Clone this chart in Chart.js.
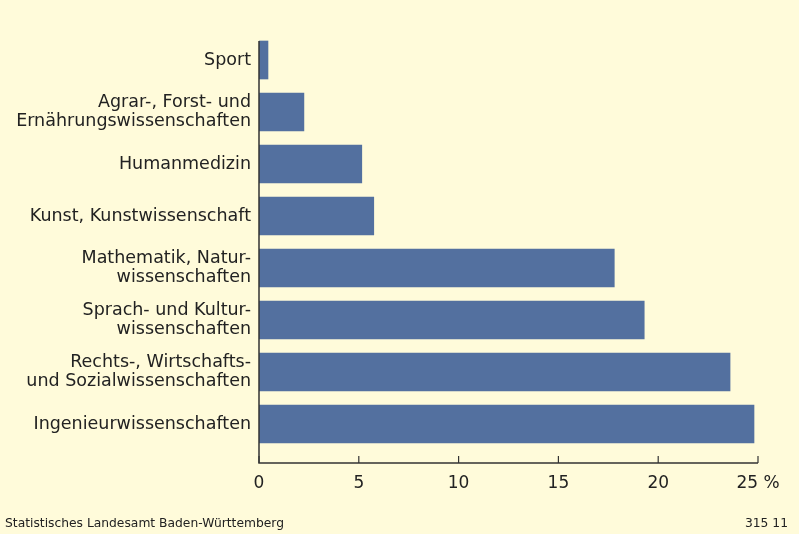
<!DOCTYPE html>
<html>
<head>
<meta charset="utf-8">
<script src="https://cdn.jsdelivr.net/npm/chart.js@4"></script>
<style>
  html, body { margin: 0; padding: 0; background: #FFFBDA; }
  #wrap { position: relative; width: 799px; height: 534px; overflow: hidden; }
  canvas { position: absolute; left: 0; top: 0; }
  .foot { position: absolute; top: 516px; font-family: "DejaVu Sans", sans-serif; font-size: 12.3px; color: #222; white-space: nowrap; }
</style>
</head>
<body>
<div id="wrap">
  <canvas id="c" width="799" height="534"></canvas>
  <div class="foot" style="left:5px;">Statistisches Landesamt Baden-Württemberg</div>
  <div class="foot" style="right:11px;">315 11</div>
</div>
<script>
const categories = [
  ["Sport"],
  ["Agrar-, Forst- und", "Ernährungswissenschaften"],
  ["Humanmedizin"],
  ["Kunst, Kunstwissenschaft"],
  ["Mathematik, Natur-", "wissenschaften"],
  ["Sprach- und Kultur-", "wissenschaften"],
  ["Rechts-, Wirtschafts-", "und Sozialwissenschaften"],
  ["Ingenieurwissenschaften"]
];
const shares = [0.45, 2.25, 5.15, 5.75, 17.8, 19.3, 23.6, 24.8];
const xTicks = [0, 5, 10, 15, 20, 25];
const unitLabel = "%";

const FONT = "DejaVu Sans";
const TEXT = "#222222";
const AXIS = "#333333";

const axesPlugin = {
  id: "axesPlugin",
  afterDraw(chart) {
    const ctx = chart.ctx;
    const xs = chart.scales.x;
    const x0 = xs.getPixelForValue(0);
    const axisY = 463;
    const topY = 41;
    ctx.save();
    ctx.strokeStyle = AXIS;
    ctx.lineWidth = 1.5;
    ctx.beginPath();
    ctx.moveTo(x0, topY);
    ctx.lineTo(x0, axisY);
    ctx.lineTo(xs.getPixelForValue(25), axisY);
    ctx.stroke();
    ctx.lineWidth = 1.2;
    xTicks.forEach(v => {
      const px = xs.getPixelForValue(v);
      ctx.beginPath();
      ctx.moveTo(px, axisY);
      ctx.lineTo(px, axisY - 7);
      ctx.stroke();
    });
    ctx.restore();
  }
};

new Chart(document.getElementById("c"), {
  type: "bar",
  data: {
    labels: categories,
    datasets: [{
      data: shares,
      backgroundColor: "#53709F",
      borderWidth: 0,
      barThickness: 38
    }]
  },
  options: {
    indexAxis: "y",
    responsive: false,
    animation: false,
    events: [],
    layout: { padding: { top: 34, right: 41, left: 0, bottom: 0 } },
    plugins: { legend: { display: false }, tooltip: { enabled: false } },
    scales: {
      x: {
        type: "linear",
        min: 0,
        max: 25,
        afterBuildTicks(scale) { scale.ticks = xTicks.map(v => ({ value: v })); },
        afterFit(scale) { scale.height = 84; scale.paddingLeft = 0; scale.paddingRight = 0; },
        grid: { display: false, drawTicks: false },
        border: { display: false },
        ticks: {
          padding: 23,
          color: TEXT,
          maxRotation: 0,
          font: { family: FONT, size: 17 },
          callback: v => (v === xTicks[xTicks.length - 1] ? v + " " + unitLabel : String(v))
        }
      },
      y: {
        type: "category",
        offset: true,
        afterFit(scale) { scale.width = 259; },
        grid: { display: false, drawTicks: false },
        border: { display: false },
        ticks: {
          padding: 8,
          color: TEXT,
          autoSkip: false,
          font: { family: FONT, size: 17.5, lineHeight: 1.13 }
        }
      }
    }
  },
  plugins: [axesPlugin]
});
</script>
</body>
</html>
